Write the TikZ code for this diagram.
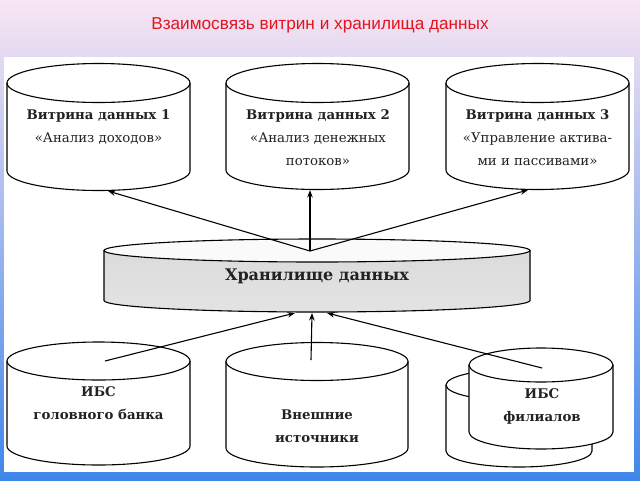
\documentclass[tikz,border=0pt]{standalone}
\usepackage{fontspec}
\setmainfont{DejaVu Serif}
\newfontfamily\titlefont{Liberation Sans}
\usetikzlibrary{arrows.meta}
\definecolor{titlered}{HTML}{E3141E}
\definecolor{bgtop}{HTML}{F9E5F3}
\definecolor{bgmid}{HTML}{D3DCF6}
\definecolor{bgbot}{HTML}{3F86EA}
\definecolor{txt}{HTML}{222222}
\newcommand\cyl[8]{%
  \path[#7] (#2-#5,-#3) -- (#2-#5,-#4) arc[start angle=180,end angle=360,x radius=#5,y radius=#6] -- (#2+#5,-#3) -- cycle;
  \path[#8] (#2,-#3) ellipse[x radius=#5,y radius=#6];
  \draw[cylline] (#2-#5,-#3) -- (#2-#5,-#4) arc[start angle=180,end angle=360,x radius=#5,y radius=#6] -- (#2+#5,-#3);
  \draw[cylline] (#2,-#3) ellipse[x radius=#5,y radius=#6];
  \coordinate (#1) at (#2,-#3);
}
\begin{document}
\begin{tikzpicture}[x=1pt,y=1pt,
  cylline/.style={line width=1.1pt, black},
  link/.style={line width=1.1pt, black, -{Stealth[length=7.5pt,width=5.5pt]}},
  lbl/.style={align=center, text=txt, font=\fontsize{13.3}{23}\selectfont, inner sep=0pt},
  blbl/.style={lbl, font=\bfseries\fontsize{13.3}{23}\selectfont},
  bigl/.style={align=center, text=txt, font=\bfseries\fontsize{16}{18}\selectfont, inner sep=0pt},
]
\useasboundingbox (0,0) rectangle (640,-480);
\shade[top color=bgtop, middle color=bgmid, bottom color=bgbot] (0,0) rectangle (640,-480);
\fill[white] (4,-57) rectangle (634,-472);

\node[font=\titlefont\fontsize{17.2}{19}\selectfont, text=titlered] (title) at (320,-25) {Взаимосвязь витрин и хранилища данных};

% top data marts
\cyl{v1}{98.5}{83}{171}{91.5}{19.5}{fill=white}{fill=white}
\cyl{v2}{317.5}{83}{170}{91.5}{19.5}{fill=white}{fill=white}
\cyl{v3}{537.5}{83}{170}{91.5}{19.5}{fill=white}{fill=white}
\node[lbl] (t1) at (98.5,-126.5) {\textbf{Витрина данных 1}\\«Анализ доходов»};
\node[lbl] (t2) at (318,-138) {\textbf{Витрина данных 2}\\«Анализ денежных\\потоков»};
\node[lbl] (t3) at (537.5,-138) {\textbf{Витрина данных 3}\\«Управление актива-\\ми и пассивами»};

% warehouse
\cyl{wh}{317}{250.5}{300.5}{213}{11.5}{top color=gray!28, middle color=gray!5, bottom color=gray!22}{fill=gray!4}
\node[bigl] (tw) at (317,-276) {Хранилище данных};

% bottom sources
\cyl{s1}{98.5}{361}{446}{91.5}{19}{fill=white}{fill=white}
\cyl{s2}{317}{361.5}{448}{91}{19}{fill=white}{fill=white}
\cyl{s3b}{519}{385}{451}{73}{16}{fill=white}{fill=white}
\cyl{s3}{541}{365}{432}{72}{17}{fill=white}{fill=white}
\node[blbl] (b1) at (98.5,-403.5) {ИБС\\головного банка};
\node[blbl] (b2) at (317,-426) {Внешние\\источники};
\node[blbl] (b3) at (542,-406.5) {ИБС\\филиалов};

% connectors
\coordinate (whA) at (310,-251);
\coordinate (v1in) at (108,-191);
\coordinate (v2in) at (310,-190);
\coordinate (v3in) at (528,-190);
\draw[link] (whA) -- (v1in);
\draw[link] (whA) -- (v2in);
\draw[link] (whA) -- (v3in);

\coordinate (a1) at (105,-361);
\coordinate (a2) at (311,-360);
\coordinate (a3) at (542,-368);
\coordinate (w1) at (295,-313);
\coordinate (w2) at (312,-313);
\coordinate (w3) at (327,-313);
\draw[link] (a1) -- (w1);
\draw[link] (a2) -- (w2);
\draw[link] (a3) -- (w3);
\end{tikzpicture}
\end{document}
